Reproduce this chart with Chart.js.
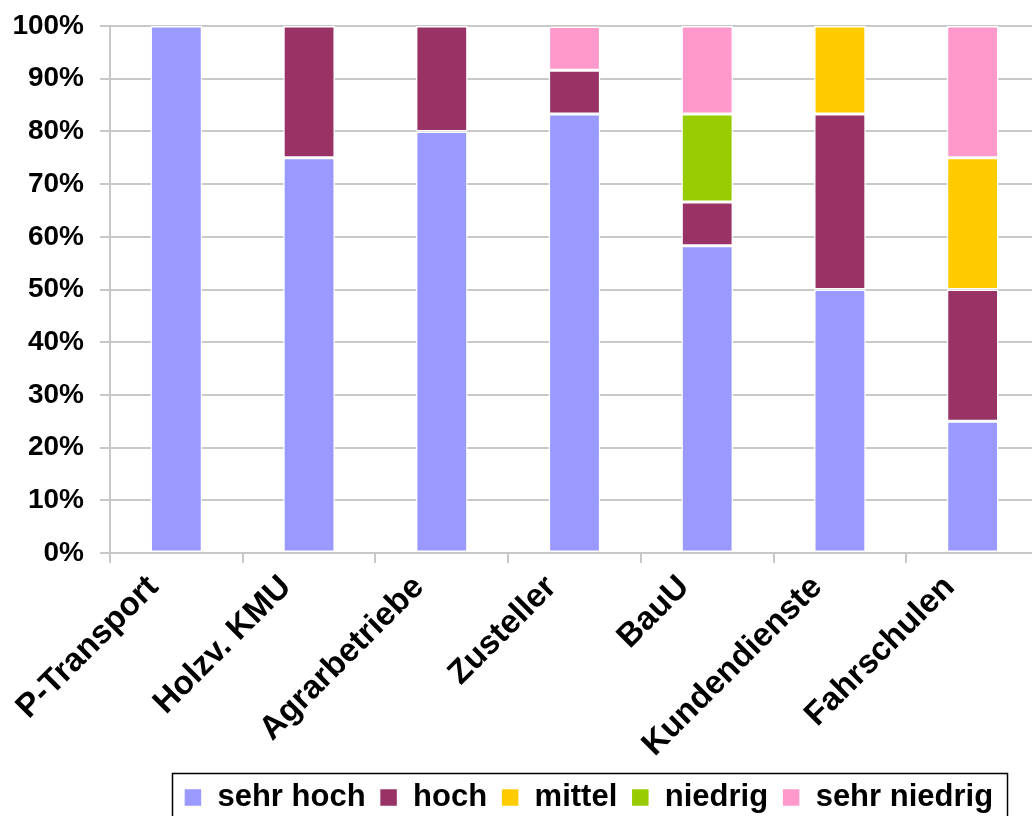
<!DOCTYPE html>
<html>
<head>
<meta charset="utf-8">
<script src="https://cdn.jsdelivr.net/npm/chart.js@4/dist/chart.umd.min.js"></script>
<style>
  html, body { margin: 0; padding: 0; background: #ffffff; overflow: hidden; }
  #wrap { position: relative; width: 1039px; height: 823px; }
</style>
</head>
<body>
<div id="wrap"><canvas id="c"></canvas></div>
<script>
// ---- data ----
const categories = ['P-Transport', 'Holzv. KMU', 'Agrarbetriebe', 'Zusteller', 'BauU', 'Kundendienste', 'Fahrschulen'];
const seriesNames = ['sehr hoch', 'hoch', 'mittel', 'niedrig', 'sehr niedrig'];
const sehrHoch    = [100, 75, 80, 83.3, 58.3, 50, 25];
const hoch        = [0, 25, 20, 8.3, 8.3, 33.3, 25];
const mittel      = [0, 0, 0, 0, 0, 16.7, 25];
const niedrig     = [0, 0, 0, 0, 16.7, 0, 0];
const sehrNiedrig = [0, 0, 0, 8.3, 16.7, 0, 25];
const yTicks = [0, 10, 20, 30, 40, 50, 60, 70, 80, 90, 100];

const colors = ['#9999FF', '#993366', '#FFCC00', '#99CC00', '#FF99CC'];
const seriesValues = [sehrHoch, hoch, mittel, niedrig, sehrNiedrig];

const FONT = "'Liberation Sans', Arial, sans-serif";

// shift the legend so it sits where the reference legend sits
const legendShift = {
  id: 'legendShift',
  afterLayout(chart) {
    const lg = chart.legend;
    if (!lg) return;
    lg.left += 14; lg.right += 14;
  }
};

// frame around the legend entries
const legendBorder = {
  id: 'legendBorder',
  afterDraw(chart) {
    const lg = chart.legend;
    if (!lg || !lg.legendHitBoxes || !lg.legendHitBoxes.length) return;
    const hb = lg.legendHitBoxes;
    const first = hb[0], last = hb[hb.length - 1];
    const ctx = chart.ctx;
    ctx.save();
    ctx.strokeStyle = '#000000';
    ctx.lineWidth = 1.5;
    const l = Math.round(first.left - 12) + 0.5;
    const r = Math.round(last.left + last.width + 14) + 0.5;
    const t = Math.round(first.top - 9) + 0.5;
    const b = t + 90;
    ctx.strokeRect(l, t, r - l, b - t);
    ctx.restore();
  }
};

new Chart(document.getElementById('c'), {
  type: 'bar',
  data: {
    labels: categories,
    datasets: seriesNames.map((name, i) => ({
      label: name,
      data: seriesValues[i],
      backgroundColor: colors[i],
      borderColor: '#ffffff',
      borderWidth: 1.5,
      borderSkipped: false,
      barPercentage: 0.39,
      categoryPercentage: 1.0
    }))
  },
  options: {
    responsive: true,
    maintainAspectRatio: false,
    animation: false,
    devicePixelRatio: 1,
    layout: { padding: { top: 26, left: 0, right: 0, bottom: 0 } },
    plugins: {
      title: { display: false },
      tooltip: { enabled: false },
      legend: {
        display: true,
        position: 'bottom',
        align: 'center',
        fullSize: false,
        labels: {
          color: '#000000',
          font: { family: FONT, size: 31, weight: 'bold' },
          boxWidth: 18,
          boxHeight: 18,
          padding: 14
        }
      }
    },
    scales: {
      x: {
        stacked: true,
        offset: true,
        grid: {
          display: true,
          drawOnChartArea: false,
          drawTicks: true,
          tickLength: 10,
          color: '#c8c8c8',
          lineWidth: 2,
          offset: true
        },
        border: { display: true, color: '#c8c8c8', width: 2 },
        ticks: {
          color: '#000000',
          font: { family: FONT, size: 33, weight: 'bold' },
          minRotation: 45,
          maxRotation: 45,
          padding: 5,
          labelOffset: -23,
          autoSkip: false
        },
        afterFit(scale) {
          scale.height = 215;
          scale.paddingLeft = 0;
          scale.paddingRight = 0;
          scale.paddingTop = 0;
          scale.paddingBottom = 0;
        }
      },
      y: {
        stacked: true,
        min: 0,
        max: 100,
        afterBuildTicks(scale) {
          scale.ticks = yTicks.map(v => ({ value: v }));
        },
        grid: {
          color: '#c8c8c8',
          lineWidth: 2,
          drawTicks: true,
          tickLength: 10
        },
        border: { display: true, color: '#c8c8c8', width: 2 },
        ticks: {
          color: '#000000',
          font: { family: FONT, size: 28, weight: 'bold' },
          padding: 16,
          callback: (v) => v + '%'
        },
        afterFit(scale) {
          scale.width = 110;
          scale.paddingTop = 0;
          scale.paddingBottom = 0;
        }
      }
    }
  },
  plugins: [legendShift, legendBorder]
});
</script>
</body>
</html>
